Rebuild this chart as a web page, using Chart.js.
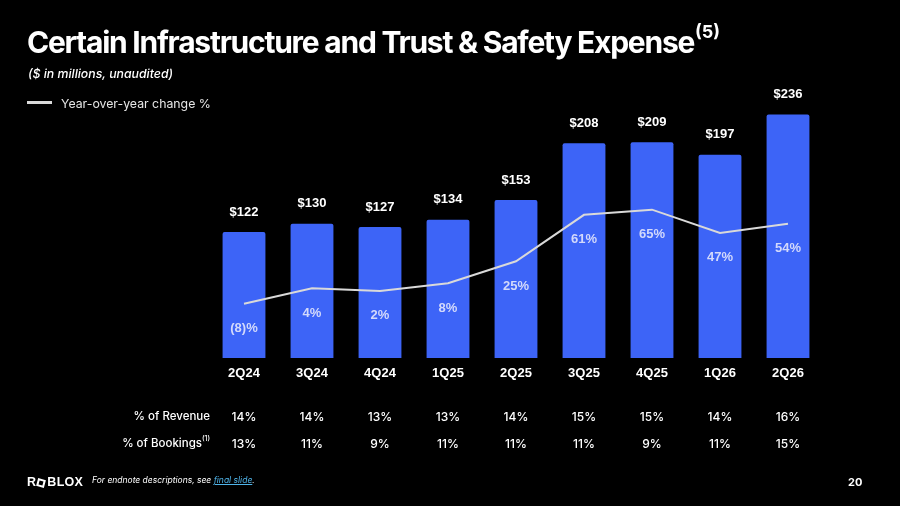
<!DOCTYPE html>
<html>
<head>
<meta charset="utf-8">
<script src="https://cdn.jsdelivr.net/npm/chart.js@4"></script>
<style>
  html, body { margin: 0; padding: 0; background: #000; }
  #wrap { position: relative; width: 900px; height: 506px; overflow: hidden; font-family: Inter, sans-serif; color: #fff; }
  #chart { position: absolute; left: 0; top: 0; }
  .title { position: absolute; left: 27px; top: 24px; font-size: 30px; font-weight: 700; letter-spacing: -1.25px; white-space: nowrap; }
  .title sup { font-size: 18px; letter-spacing: 0; position: relative; top: -4px; margin-left: 1px; }
  .sub { position: absolute; left: 28px; top: 66px; font-size: 12.3px; font-style: italic; font-weight: 500; }
  .legend { position: absolute; left: 27px; top: 96px; font-size: 12.3px; color: #e6e6e6; }
  .legend i { display: inline-block; width: 25px; height: 3px; background: #d9d9d9; vertical-align: middle; margin-right: 9px; position: relative; top: -2px; }
  .logo { position: absolute; left: 27px; top: 475px; font-size: 12.5px; font-weight: 800; letter-spacing: 0.3px; font-family: "Liberation Sans", Arial, sans-serif; }
  .logo b { display: inline-block; width: 8px; height: 8px; border: 2.5px solid #fff; transform: rotate(15deg); margin: 0 2px 0 1px; vertical-align: -1px; box-sizing: content-box; width: 4px; height: 4px; }
  .note { position: absolute; left: 92px; top: 475px; font-size: 8.5px; font-style: italic; }
  .note u { color: #4fb3e8; }
  .page { position: absolute; left: 848px; top: 475px; font-size: 11px; font-weight: 700; }
</style>
</head>
<body>
<div id="wrap">
  <canvas id="chart" width="900" height="506"></canvas>
  <div class="title">Certain Infrastructure and Trust &amp; Safety Expense<sup>(5)</sup></div>
  <div class="sub">($ in millions, unaudited)</div>
  <div class="legend"><i></i>Year-over-year change %</div>
  <div class="logo">R<b></b>BLOX</div>
  <div class="note">For endnote descriptions, see <u>final slide</u>.</div>
  <div class="page">20</div>
</div>
<script>
const quarters = ['2Q24', '3Q24', '4Q24', '1Q25', '2Q25', '3Q25', '4Q25', '1Q26', '2Q26'];
const expense = [122, 130, 127, 134, 153, 208, 209, 197, 236];
const yoyChange = [-8, 4, 2, 8, 25, 61, 65, 47, 54];
const pctRevenue = [14, 14, 13, 13, 14, 15, 15, 14, 16];
const pctBookings = [13, 11, 9, 11, 11, 11, 9, 11, 15];

function fmtPct(v){
    return v < 0 ? '(' + Math.abs(v) + ')%' : v + '%';
}

const labelPlugin = {
    id: 'labelPlugin',
    afterDatasetsDraw(chart){
        const c = chart.ctx;
        const x = chart.scales.x;
        const bars = chart.getDatasetMeta(1).data;
        const pts = chart.getDatasetMeta(0).data;
        c.save();
        c.textAlign = 'center';
        c.textBaseline = 'middle';

        // bar values
        c.fillStyle = '#ffffff';
        c.font = 'bold 13px "Liberation Sans", Arial, sans-serif';
        bars.forEach((b, i) => c.fillText('$' + expense[i], b.x, b.y - 20));

        // yoy labels
        c.fillStyle = '#d3d9fb';
        pts.forEach((p, i) => c.fillText(fmtPct(yoyChange[i]), p.x, p.y + 25));

        // category labels
        c.fillStyle = '#ffffff';
        quarters.forEach((q, i) => c.fillText(q, x.getPixelForValue(i), 373));

        // table rows
        c.font = '500 12px Inter, sans-serif';
        pctRevenue.forEach((v, i) => c.fillText(v + '%', x.getPixelForValue(i), 417));
        pctBookings.forEach((v, i) => c.fillText(v + '%', x.getPixelForValue(i), 444));

        c.font = '500 11.5px Inter, sans-serif';
        c.textAlign = 'right';
        c.fillText('% of Revenue', 210, 417);
        c.fillText('% of Bookings', 202, 444);
        c.textAlign = 'left';
        c.font = '500 7px Inter, sans-serif';
        c.fillText('(1)', 202, 439);
        c.restore();
    }
};

new Chart(document.getElementById('chart'), {
    type: 'bar',
    data: {
        labels: quarters,
        datasets: [{
            type: 'line',
            data: yoyChange,
            yAxisID: 'y1',
            borderColor: '#d9d9d9',
            borderWidth: 2,
            pointRadius: 0,
            tension: 0,
            order: 1
        }, {
            data: expense,
            yAxisID: 'y',
            backgroundColor: '#3d64f7',
            borderRadius: 2,
            borderSkipped: 'bottom',
            categoryPercentage: 1,
            barPercentage: 0.63,
            order: 2
        }]
    },
    options: {
        responsive: false,
        animation: false,
        devicePixelRatio: 1,
        layout: { padding: { left: 210, right: 78, top: 100, bottom: 148 } },
        plugins: {
            legend: { display: false },
            tooltip: { enabled: false }
        },
        scales: {
            x: { display: false },
            y: { display: false, min: 0, max: 250 },
            y1: { display: false, min: -50, max: 150 }
        }
    },
    plugins: [labelPlugin]
});
</script>
</body>
</html>
